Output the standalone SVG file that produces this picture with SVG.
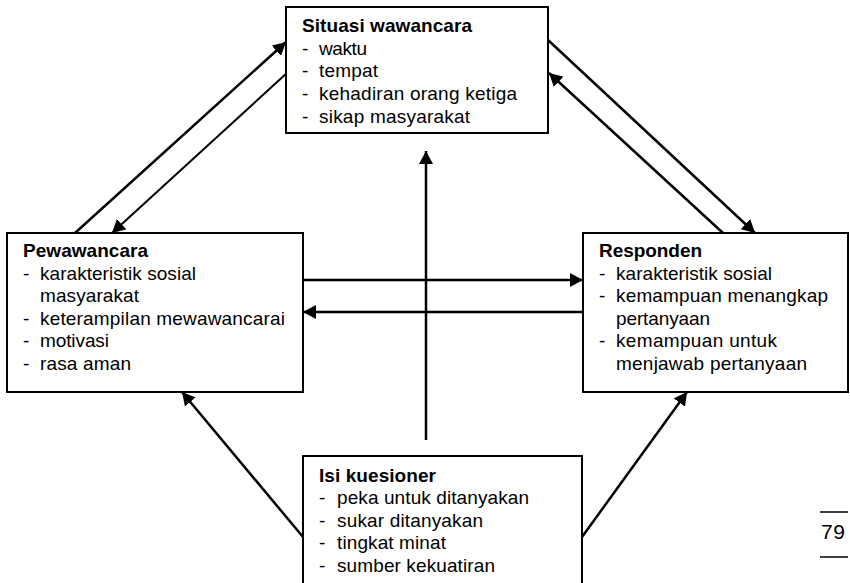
<svg xmlns="http://www.w3.org/2000/svg" width="850" height="583" viewBox="0 0 850 583">
<style>
.box{fill:#fff;stroke:#000;stroke-width:2}
text{font-family:"Liberation Sans",Arial,sans-serif;font-size:19px;fill:#000}
.t{font-weight:bold}
.c{fill:none;stroke:#000;stroke-width:2.5;marker-end:url(#ah)}
.thin{stroke-width:2}
</style>
<defs>
<marker id="ah" markerUnits="userSpaceOnUse" markerWidth="14" markerHeight="14" refX="13" refY="7" orient="auto">
<path d="M0,0 L13,7 L0,14 z" fill="#000"/>
</marker>
</defs>
<rect x="0" y="0" width="850" height="583" fill="#fff"/>
<g id="connectors">
<line class="c" x1="75" y1="233" x2="286" y2="42"/>
<line class="c thin" x1="288" y1="72" x2="112" y2="233"/>
<line class="c" x1="548" y1="40" x2="755" y2="233"/>
<line class="c" x1="723" y1="233" x2="549" y2="73"/>
<line class="c" x1="303" y1="280" x2="583" y2="280"/>
<line class="c" x1="583" y1="312" x2="303" y2="312"/>
<line class="c" x1="426" y1="440" x2="426" y2="151"/>
<line class="c" x1="303" y1="537" x2="182" y2="392"/>
<line class="c" x1="582" y1="537" x2="687" y2="392"/>
</g>
<g id="situasi">
<rect class="box" x="286" y="7" width="262" height="126"/>
<text class="t" x="302" y="32" textLength="170" lengthAdjust="spacing">Situasi wawancara</text>
<text x="302" y="55">-</text><text x="319" y="55" textLength="48" lengthAdjust="spacing">waktu</text>
<text x="302" y="77">-</text><text x="319" y="77" textLength="59" lengthAdjust="spacing">tempat</text>
<text x="302" y="100">-</text><text x="319" y="100" textLength="198" lengthAdjust="spacing">kehadiran orang ketiga</text>
<text x="302" y="123">-</text><text x="319" y="123" textLength="151" lengthAdjust="spacing">sikap masyarakat</text>
</g>
<g id="pewawancara">
<rect class="box" x="7" y="233" width="296" height="159"/>
<text class="t" x="23" y="257" textLength="125" lengthAdjust="spacing">Pewawancara</text>
<text x="23" y="280">-</text><text x="40" y="280" textLength="156" lengthAdjust="spacing">karakteristik sosial</text>
<text x="40" y="302" textLength="99" lengthAdjust="spacing">masyarakat</text>
<text x="23" y="325">-</text><text x="40" y="325" textLength="245" lengthAdjust="spacing">keterampilan mewawancarai</text>
<text x="23" y="347">-</text><text x="40" y="347" textLength="69" lengthAdjust="spacing">motivasi</text>
<text x="23" y="370">-</text><text x="40" y="370" textLength="91" lengthAdjust="spacing">rasa aman</text>
</g>
<g id="responden">
<rect class="box" x="583" y="233" width="265" height="159"/>
<text class="t" x="599" y="257" textLength="103" lengthAdjust="spacing">Responden</text>
<text x="599" y="280">-</text><text x="616" y="280" textLength="156" lengthAdjust="spacing">karakteristik sosial</text>
<text x="599" y="302">-</text><text x="616" y="302" textLength="212" lengthAdjust="spacing">kemampuan menangkap</text>
<text x="616" y="325" textLength="94" lengthAdjust="spacing">pertanyaan</text>
<text x="599" y="347">-</text><text x="616" y="347" textLength="161" lengthAdjust="spacing">kemampuan untuk</text>
<text x="616" y="370" textLength="191" lengthAdjust="spacing">menjawab pertanyaan</text>
</g>
<g id="isi">
<rect class="box" x="303" y="456" width="279" height="140"/>
<text class="t" x="319" y="482" textLength="117" lengthAdjust="spacing">Isi kuesioner</text>
<text x="319" y="504">-</text><text x="337" y="504" textLength="192" lengthAdjust="spacing">peka untuk ditanyakan</text>
<text x="319" y="527">-</text><text x="337" y="527" textLength="146" lengthAdjust="spacing">sukar ditanyakan</text>
<text x="319" y="549">-</text><text x="337" y="549" textLength="109" lengthAdjust="spacing">tingkat minat</text>
<text x="319" y="572">-</text><text x="337" y="572" textLength="158" lengthAdjust="spacing">sumber kekuatiran</text>
</g>
<g id="page">
<line x1="820" y1="512" x2="848" y2="512" stroke="#000" stroke-width="1.5"/>
<text x="821" y="539" style="font-size:21px" textLength="24" lengthAdjust="spacing">79</text>
<line x1="820" y1="557" x2="848" y2="557" stroke="#000" stroke-width="1.5"/>
</g>
</svg>
